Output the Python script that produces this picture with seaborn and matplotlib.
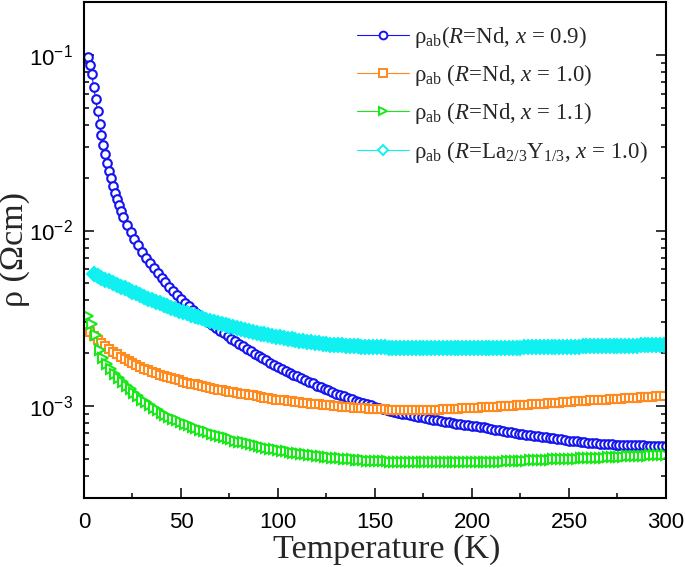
import matplotlib
matplotlib.use("Agg")
import matplotlib.pyplot as plt
import seaborn as sns
from matplotlib.lines import Line2D
from matplotlib.ticker import MultipleLocator, NullFormatter

# ---------------- data (rho in mOhm cm, T in K) ----------------
T_even = [2, 4, 6, 8, 10, 12, 14, 16, 18, 20, 22, 24, 26, 28, 30, 32, 34, 36, 38, 40,
          42, 44, 46, 48, 50, 52, 54, 56, 58, 60, 62, 64, 66, 68, 70, 72, 74, 76, 78, 80,
          82, 84, 86, 88, 90, 92, 94, 96, 98, 100, 102, 104, 106, 108, 110, 112, 114, 116, 118, 120,
          122, 124, 126, 128, 130, 132, 134, 136, 138, 140, 142, 144, 146, 148, 150, 152, 154, 156, 158, 160,
          162, 164, 166, 168, 170, 172, 174, 176, 178, 180, 182, 184, 186, 188, 190, 192, 194, 196, 198, 200,
          202, 204, 206, 208, 210, 212, 214, 216, 218, 220, 222, 224, 226, 228, 230, 232, 234, 236, 238, 240,
          242, 244, 246, 248, 250, 252, 254, 256, 258, 260, 262, 264, 266, 268, 270, 272, 274, 276, 278, 280,
          282, 284, 286, 288, 290, 292, 294, 296, 298, 300]
T_odd = [3, 5, 7, 9, 11, 13, 15, 17, 19, 21, 23, 25, 27, 29, 31, 33, 35, 37, 39, 41,
         43, 45, 47, 49, 51, 53, 55, 57, 59, 61, 63, 65, 67, 69, 71, 73, 75, 77, 79, 81,
         83, 85, 87, 89, 91, 93, 95, 97, 99, 101, 103, 105, 107, 109, 111, 113, 115, 117, 119, 121,
         123, 125, 127, 129, 131, 133, 135, 137, 139, 141, 143, 145, 147, 149, 151, 153, 155, 157, 159, 161,
         163, 165, 167, 169, 171, 173, 175, 177, 179, 181, 183, 185, 187, 189, 191, 193, 195, 197, 199, 201,
         203, 205, 207, 209, 211, 213, 215, 217, 219, 221, 223, 225, 227, 229, 231, 233, 235, 237, 239, 241,
         243, 245, 247, 249, 251, 253, 255, 257, 259, 261, 263, 265, 267, 269, 271, 273, 275, 277, 279, 281,
         283, 285, 287, 289, 291, 293, 295, 297, 299]
T_low = [2, 3, 4, 5, 6, 7, 8, 9, 10, 11, 12, 13, 14, 15, 16, 17, 18, 19, 20]

T_nd09 = T_low + T_even[10:]
T_nd10 = T_odd
T_nd11 = T_even
T_la10 = T_odd[1:]

rho_nd09 = [96.9, 87.0, 77.5, 66.0, 56.0, 48.0, 40.5, 35.2, 30.5, 27.2,
            24.2, 21.8, 19.8, 18.0, 16.4, 15.1, 14.0, 12.9, 12.0,
            10.77, 9.82, 8.97, 8.24, 7.59, 7.00, 6.49, 6.08, 5.70, 5.36,
            5.06, 4.78, 4.52, 4.28, 4.07, 3.88, 3.70, 3.54, 3.39, 3.26,
            3.13, 3.01, 2.90, 2.79, 2.69, 2.60, 2.50, 2.42, 2.34, 2.26,
            2.19, 2.12, 2.05, 1.99, 1.93, 1.88, 1.82, 1.77, 1.72, 1.67,
            1.62, 1.58, 1.55, 1.51, 1.48, 1.44, 1.41, 1.38, 1.35, 1.31,
            1.28, 1.25, 1.23, 1.20, 1.18, 1.16, 1.135, 1.114, 1.094, 1.076,
            1.059, 1.042, 1.026, 1.009, 0.993, 0.980, 0.966, 0.953, 0.940, 0.929,
            0.918, 0.908, 0.897, 0.887, 0.879, 0.871, 0.863, 0.855, 0.847, 0.839,
            0.832, 0.824, 0.817, 0.809, 0.802, 0.796, 0.791, 0.785, 0.780, 0.774,
            0.769, 0.762, 0.757, 0.750, 0.743, 0.736, 0.729, 0.723, 0.716, 0.710,
            0.705, 0.698, 0.693, 0.687, 0.682, 0.678, 0.673, 0.668, 0.664, 0.659,
            0.655, 0.650, 0.646, 0.641, 0.637, 0.634, 0.630, 0.627, 0.622, 0.619,
            0.617, 0.614, 0.611, 0.608, 0.607, 0.605, 0.604, 0.603, 0.601, 0.601,
            0.600, 0.600, 0.598, 0.598, 0.597, 0.596, 0.594, 0.593, 0.592, 0.590]

rho_nd10 = [2.65, 2.50, 2.38, 2.28, 2.19, 2.11, 2.04, 1.97, 1.91, 1.85,
            1.80, 1.75, 1.71, 1.67, 1.63, 1.60, 1.57, 1.54, 1.51, 1.49,
            1.46, 1.44, 1.42, 1.40, 1.38, 1.36, 1.345, 1.33, 1.315, 1.30,
            1.285, 1.27, 1.255, 1.24, 1.23, 1.22, 1.21, 1.20, 1.19, 1.18,
            1.17, 1.16, 1.15, 1.14, 1.13, 1.12, 1.11, 1.10, 1.09, 1.085,
            1.08, 1.07, 1.065, 1.06, 1.05, 1.045, 1.04, 1.035, 1.03, 1.025,
            1.02, 1.015, 1.01, 1.005, 1.00, 0.995, 0.99, 0.986, 0.982, 0.978,
            0.975, 0.972, 0.969, 0.966, 0.963, 0.961, 0.959, 0.957, 0.955, 0.954,
            0.953, 0.952, 0.951, 0.951, 0.951, 0.951, 0.952, 0.953, 0.954, 0.955,
            0.957, 0.959, 0.961, 0.963, 0.965, 0.967, 0.970, 0.972, 0.975, 0.977,
            0.980, 0.983, 0.985, 0.988, 0.991, 0.994, 0.997, 1.000, 1.003, 1.007,
            1.010, 1.014, 1.017, 1.021, 1.024, 1.028, 1.031, 1.035, 1.038, 1.042,
            1.045, 1.049, 1.052, 1.056, 1.059, 1.063, 1.066, 1.070, 1.073, 1.077,
            1.080, 1.084, 1.087, 1.091, 1.094, 1.098, 1.101, 1.105, 1.108, 1.112,
            1.115, 1.119, 1.122, 1.126, 1.129, 1.133, 1.136, 1.140, 1.143]

rho_nd11 = [3.25, 2.95, 2.55, 2.10, 1.88, 1.74, 1.63, 1.53, 1.45, 1.38,
            1.31, 1.25, 1.19, 1.14, 1.09, 1.05, 1.01, 0.98, 0.95, 0.92,
            0.895, 0.87, 0.85, 0.83, 0.81, 0.795, 0.78, 0.765, 0.75, 0.735,
            0.72, 0.708, 0.696, 0.685, 0.675, 0.665, 0.655, 0.646, 0.637, 0.629,
            0.621, 0.613, 0.606, 0.599, 0.592, 0.586, 0.580, 0.574, 0.568, 0.563,
            0.558, 0.553, 0.548, 0.544, 0.540, 0.536, 0.532, 0.528, 0.524, 0.521,
            0.518, 0.515, 0.512, 0.509, 0.506, 0.504, 0.502, 0.500, 0.498, 0.496,
            0.494, 0.492, 0.490, 0.489, 0.488, 0.487, 0.486, 0.485, 0.484, 0.483,
            0.482, 0.481, 0.480, 0.480, 0.479, 0.479, 0.478, 0.478, 0.478, 0.478,
            0.478, 0.478, 0.478, 0.478, 0.478, 0.478, 0.479, 0.479, 0.479, 0.479,
            0.480, 0.480, 0.481, 0.481, 0.482, 0.482, 0.483, 0.484, 0.485, 0.486,
            0.487, 0.488, 0.489, 0.490, 0.491, 0.492, 0.493, 0.494, 0.495, 0.496,
            0.497, 0.498, 0.499, 0.500, 0.501, 0.502, 0.503, 0.504, 0.505, 0.506,
            0.507, 0.508, 0.509, 0.510, 0.511, 0.512, 0.513, 0.514, 0.516, 0.517,
            0.518, 0.519, 0.521, 0.522, 0.523, 0.525, 0.526, 0.527, 0.529, 0.530]

rho_la10 = [5.64, 5.51, 5.38, 5.26, 5.13, 5.01, 4.90, 4.79, 4.68, 4.57,
            4.47, 4.38, 4.28, 4.19, 4.09, 4.01, 3.93, 3.85, 3.78, 3.71,
            3.63, 3.56, 3.50, 3.44, 3.38, 3.32, 3.27, 3.21, 3.16, 3.11,
            3.06, 3.02, 2.98, 2.93, 2.89, 2.85, 2.81, 2.78, 2.74, 2.71,
            2.67, 2.64, 2.61, 2.59, 2.56, 2.53, 2.51, 2.48, 2.46, 2.44,
            2.42, 2.40, 2.38, 2.36, 2.34, 2.32, 2.31, 2.30, 2.28, 2.27,
            2.25, 2.24, 2.23, 2.23, 2.22, 2.21, 2.20, 2.20, 2.19, 2.18,
            2.18, 2.17, 2.17, 2.17, 2.16, 2.16, 2.15, 2.15, 2.15, 2.15,
            2.14, 2.14, 2.14, 2.14, 2.13, 2.13, 2.13, 2.13, 2.13, 2.13,
            2.13, 2.13, 2.13, 2.13, 2.13, 2.13, 2.13, 2.13, 2.13, 2.13,
            2.13, 2.13, 2.14, 2.14, 2.14, 2.14, 2.14, 2.15, 2.15, 2.15,
            2.15, 2.16, 2.16, 2.16, 2.16, 2.16, 2.17, 2.17, 2.17, 2.17,
            2.17, 2.18, 2.18, 2.18, 2.18, 2.18, 2.19, 2.19, 2.19, 2.19,
            2.19, 2.20, 2.20, 2.20, 2.20, 2.20, 2.21, 2.21, 2.21, 2.21,
            2.21, 2.22, 2.22, 2.22, 2.22, 2.22, 2.23, 2.23]

labels = [
    r'ρ$_{\mathregular{ab}}$($\mathit{R}$=Nd, $\mathit{x}$ = 0.9)',
    r'ρ$_{\mathregular{ab}}$ ($\mathit{R}$=Nd, $\mathit{x}$ = 1.0)',
    r'ρ$_{\mathregular{ab}}$ ($\mathit{R}$=Nd, $\mathit{x}$ = 1.1)',
    r'ρ$_{\mathregular{ab}}$ ($\mathit{R}$=La$_{\mathregular{2/3}}$Y$_{\mathregular{1/3}}$, $\mathit{x}$ = 1.0)',
]

# ---------------- style ----------------
sns.set_style("ticks")
plt.rcParams['font.family'] = ['Liberation Sans', 'DejaVu Sans']
plt.rcParams['mathtext.fontset'] = 'custom'
plt.rcParams['mathtext.rm'] = 'Liberation Serif'
plt.rcParams['mathtext.it'] = 'Liberation Serif:italic'
plt.rcParams['mathtext.bf'] = 'Liberation Serif:bold'

fig = plt.figure(figsize=(6.85, 5.67), dpi=100)
ax = fig.add_axes([0.1226, 0.1217, 0.8496, 0.8748])

# (T, rho, colour, marker, plot size, legend size, face)
series = [
    (T_nd09, rho_nd09, '#1414f0', 'o', 6.2, 5.6, 'white'),
    (T_nd10, rho_nd10, '#ff8a1e', 's', 5.8, 5.3, 'white'),
    (T_nd11, rho_nd11, '#18e818', '>', 6.6, 6.0, 'white'),
    (T_la10, rho_la10, '#10f0f0', 'D', 7.2, 5.6, None),
]

handles = []
for (T, rho, c, m, ms, lms, fc) in series:
    y = [v / 1000.0 for v in rho]
    sns.lineplot(x=T, y=y, ax=ax, color=c, linewidth=0.8, marker=m,
                 markersize=ms, markerfacecolor=(fc if fc else c),
                 markeredgecolor=c, markeredgewidth=1.5, legend=False)
    handles.append(Line2D([], [], color=c, lw=0.8, marker=m, markersize=lms,
                          markerfacecolor='white', markeredgecolor=c,
                          markeredgewidth=1.4))

ax.set_yscale('log')
ax.set_xlim(0, 300)
ax.set_ylim(3e-4, 0.2)
ax.xaxis.set_major_locator(MultipleLocator(50))
ax.xaxis.set_minor_locator(MultipleLocator(25))
ax.yaxis.set_minor_formatter(NullFormatter())

for s in ax.spines.values():
    s.set_linewidth(1.5)
    s.set_color('black')

ax.tick_params(which='both', direction='in', top=False, right=True,
               left=True, bottom=True, width=1.1, colors='black')
ax.tick_params(which='major', length=7.2)
ax.tick_params(which='minor', length=3.6)
ax.tick_params(axis='x', which='major', pad=10, labelsize=16)
ax.tick_params(axis='y', which='major', pad=8, labelsize=16)

ax.set_xlabel('Temperature (K)', fontfamily='Liberation Serif', fontsize=24.5)
ax.set_ylabel('ρ (Ωcm)', fontfamily='Liberation Serif', fontsize=24.5)
ax.xaxis.set_label_coords(0.52, -0.072)
ax.yaxis.set_label_coords(-0.092, 0.5)

ax.legend(handles, labels, loc='upper left',
          bbox_to_anchor=(348 / 685, 1 - 15 / 567), bbox_transform=fig.transFigure,
          frameon=False, prop={'family': 'Liberation Serif', 'size': 16.5},
          handlelength=2.25, handletextpad=0.25, labelspacing=0.53,
          borderaxespad=0, borderpad=0.4, numpoints=1)

fig.savefig('out.png', dpi=100)
